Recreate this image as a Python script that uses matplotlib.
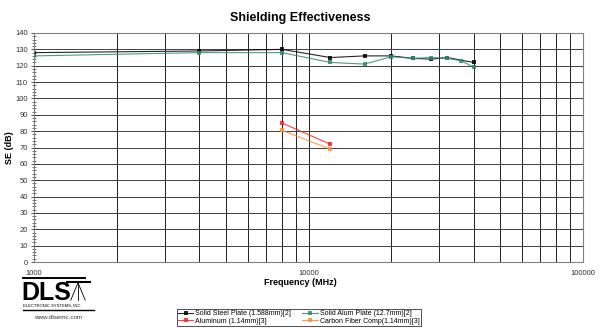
import matplotlib
matplotlib.use("Agg")
import matplotlib.pyplot as plt
from matplotlib.ticker import FixedLocator, MultipleLocator, NullFormatter, FixedFormatter
import numpy as np

plt.rcParams['font.family'] = ['Liberation Sans', 'DejaVu Sans']

# data
steel_freq = [1000, 4000, 8000, 12000, 16000, 20000, 24000, 28000, 32000, 40000]
steel_se = [128, 129, 130, 125, 126, 126, 124.5, 124, 125, 122]

alum_plate_freq = [1000, 4000, 8000, 12000, 16000, 20000, 24000, 28000, 32000, 36000, 40000]
alum_plate_se = [126, 128, 128, 122, 121, 125.5, 124.5, 125, 124.5, 123, 119]

aluminum_freq = [8000, 12000]
aluminum_se = [85, 72]

carbon_freq = [8000, 12000]
carbon_se = [80.5, 69]

series = [
    ("Solid Steel Plate (1.588mm)[2]", steel_freq, steel_se, "#000000"),
    ("Aluminum (1.14mm)[3]", aluminum_freq, aluminum_se, "#ff2020"),
    ("Solid Alum Plate (12.7mm)[2]", alum_plate_freq, alum_plate_se, "#2e8b6a"),
    ("Carbon Fiber Comp(1.14mm)[3]", carbon_freq, carbon_se, "#ff8c30"),
]

fig = plt.figure(figsize=(6, 3.28), dpi=100)
ax = fig.add_axes([0.0567, 0.2012, 0.915, 0.6982])

for label, fx, fy, color in series:
    ax.plot(fx, fy, color=color, lw=0.8, marker="s", markersize=2.3,
            markeredgewidth=0, label=label, alpha=0.85)

ax.set_xscale("log")
ax.set_xlim(1000, 100000)
ax.set_ylim(0, 140)

# grid on every log step
grid_x = [m * 10 ** e for e in (3, 4) for m in range(1, 10)]
for gx in grid_x[1:]:
    ax.axvline(gx, color="#202020", lw=0.7, zorder=0)
ax.set_yticks(np.arange(0, 141, 10))
ax.yaxis.set_minor_locator(MultipleLocator(2))
ax.grid(axis="y", which="major", color="#404040", lw=0.7, zorder=0)

ax.xaxis.set_major_locator(FixedLocator([1000, 10000, 100000]))
ax.xaxis.set_major_formatter(FixedFormatter(["1000", "10000", "100000"]))
ax.xaxis.set_minor_formatter(NullFormatter())
ax.tick_params(axis="x", which="both", length=0, labelsize=5.5, pad=6, colors="#333333")
ax.tick_params(axis="y", which="major", direction="inout", length=5, width=0.6,
               labelsize=5.5, colors="#333333", pad=2)
ax.tick_params(axis="y", which="minor", direction="inout", length=3, width=0.5,
               colors="#333333")

for side in ax.spines.values():
    side.set_color("#808080")
    side.set_linewidth(0.8)

fig.text(0.5, 0.945, "Shielding Effectiveness", ha="center", va="center",
         fontsize=9, fontweight="bold")
fig.text(0.5, 0.138, "Frequency (MHz)", ha="center", va="center",
         fontsize=6.5, fontweight="bold")
fig.text(0.016, 0.55, "SE (dB)", ha="center", va="center", rotation=90,
         fontsize=6.5, fontweight="bold")

leg = fig.legend(loc="center", bbox_to_anchor=(0.498, 0.032), ncols=2,
                 fontsize=5, frameon=True, fancybox=False, borderpad=0.15,
                 handlelength=2.2, handletextpad=0.3, columnspacing=1.6,
                 labelspacing=0.05, edgecolor="#000000")
leg.get_frame().set_linewidth(0.6)

# logo
fig.add_artist(plt.Line2D([0.038, 0.142], [0.152, 0.152], color="black", lw=1.4))
fig.text(0.036, 0.085, "DLS", fontsize=18, fontweight="bold", ha="left",
         va="baseline")
fig.add_artist(plt.Line2D([0.130, 0.118], [0.138, 0.085], color="black", lw=0.6))
fig.add_artist(plt.Line2D([0.130, 0.142], [0.138, 0.085], color="black", lw=0.6))
fig.add_artist(plt.Line2D([0.130, 0.130], [0.138, 0.085], color="black", lw=0.6))
fig.add_artist(plt.Line2D([0.112, 0.150], [0.140, 0.140], color="black", lw=1.5))
fig.text(0.038, 0.067, "ELECTRONIC SYSTEMS, INC.", fontsize=3, ha="left", va="center")
fig.add_artist(plt.Line2D([0.038, 0.157], [0.055, 0.055], color="black", lw=1.0))
fig.text(0.097, 0.032, "www.dlsemc.com", fontsize=4.5, ha="center", va="center",
         color="#333333")

fig.savefig("out.png", dpi=100)
